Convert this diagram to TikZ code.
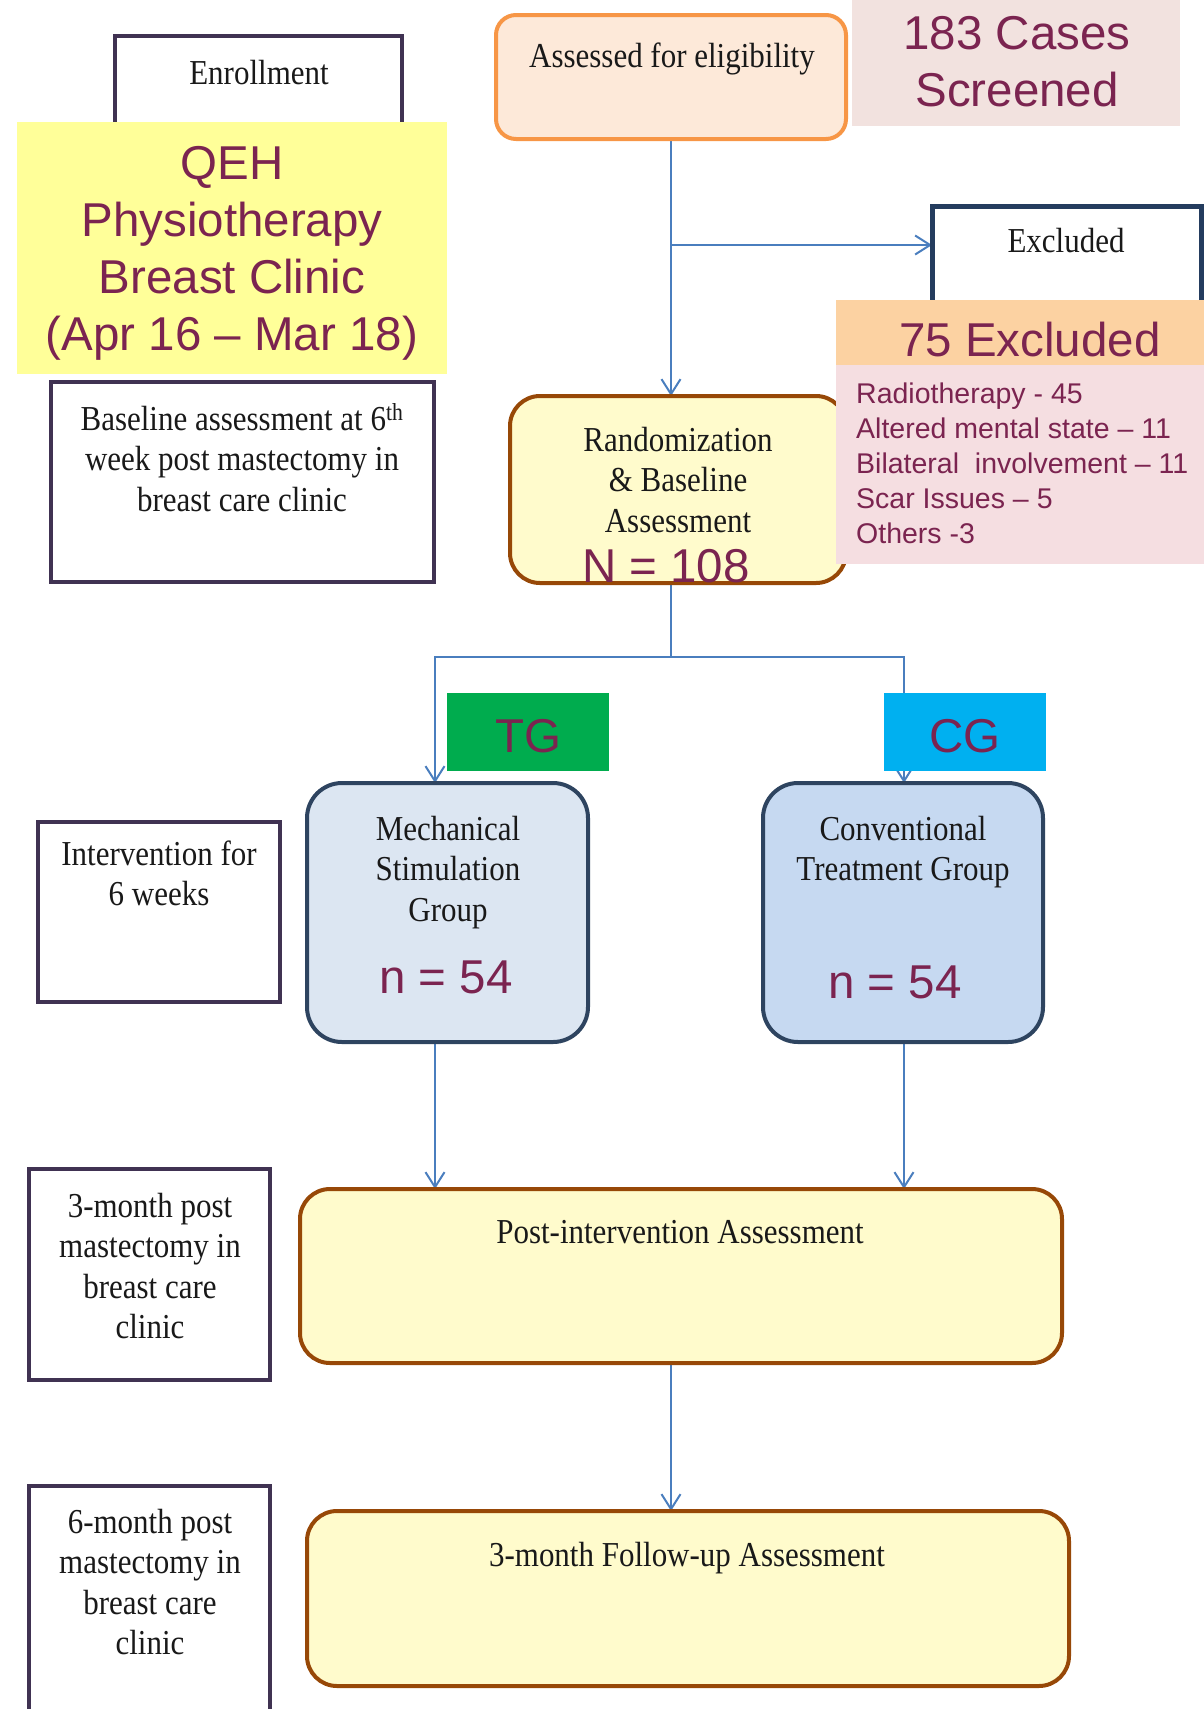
\documentclass[tikz,border=0pt]{standalone}
\usepackage{fontspec}
\newfontfamily\tnr{Liberation Serif}[FakeStretch=0.885]
\newfontfamily\ars{Liberation Sans}
\usetikzlibrary{arrows.meta}
\definecolor{mrn}{RGB}{123,36,80}
\definecolor{boxpurple}{RGB}{64,50,82}
\definecolor{exnavy}{RGB}{36,60,94}
\definecolor{arrblue}{RGB}{74,126,190}
\definecolor{qehyellow}{RGB}{255,255,153}
\definecolor{casesfill}{RGB}{242,226,223}
\definecolor{exhead}{RGB}{252,210,162}
\definecolor{exlist}{RGB}{245,222,225}
\definecolor{assfill}{RGB}{253,233,217}
\definecolor{assdraw}{RGB}{247,150,70}
\definecolor{ylfill}{RGB}{255,251,204}
\definecolor{yldraw}{RGB}{151,72,7}
\definecolor{msgfill}{RGB}{220,230,242}
\definecolor{ctgfill}{RGB}{198,217,241}
\definecolor{grpdraw}{RGB}{46,68,96}
\definecolor{tggreen}{RGB}{0,172,78}
\definecolor{cgblue}{RGB}{0,176,240}
\newcommand{\mlc}[1]{\begin{tabular}[t]{@{}c@{}}#1\end{tabular}}
\newcommand{\mll}[1]{\begin{tabular}[t]{@{}l@{}}#1\end{tabular}}
\pgfdeclarelayer{bg}
\pgfsetlayers{bg,main}
\tikzset{
  lbox/.style={draw=boxpurple, line width=4.5pt, fill=white, inner sep=0pt, outer sep=0pt, anchor=north west},
  flat/.style={inner sep=0pt, outer sep=0pt, anchor=north west},
  rbox/.style={line width=4pt, inner sep=0pt, outer sep=0pt, anchor=north west},
  serif/.style={font=\tnr\fontsize{35}{40.5}\selectfont, text=black!90, anchor=base, inner sep=0pt},
  big/.style={font=\ars\fontsize{47.5}{57}\selectfont, text=mrn, anchor=base, inner sep=0pt},
  small/.style={font=\ars\fontsize{28.5}{35.2}\selectfont, text=mrn, anchor=base west, inner sep=0pt},
  arr/.style={draw=arrblue, line width=2pt, -{Straight Barb[length=15pt,width=19pt]}},
  conn/.style={draw=arrblue, line width=2pt}
}
\begin{document}
\begin{tikzpicture}[x=1pt,y=-1pt]
\useasboundingbox (0,0) rectangle (1204,1709);
\clip (0,0) rectangle (1204,1709);

% left column
\node[lbox, minimum width=287pt, minimum height=114pt] (enroll) at (115,36) {};
\node[serif] (enrollT) at (259,84) {Enrollment};
\node[flat, fill=qehyellow, minimum width=430pt, minimum height=252pt] (qeh) at (17,122) {};
\node[big] (qehT) at (232,179) {\mlc{QEH\\Physiotherapy\\Breast Clinic\\(Apr 16 – Mar 18)}};
\node[lbox, minimum width=383pt, minimum height=200pt] (base) at (51,382) {};
\node[serif] (baseT) at (242,430) {\mlc{Baseline assessment at 6\textsuperscript{th}\\week post mastectomy in\\breast care clinic}};
\node[lbox, minimum width=242pt, minimum height=180pt] (interv) at (38,822) {};
\node[serif] (intervT) at (159,865) {\mlc{Intervention for\\6 weeks}};
\node[lbox, minimum width=241pt, minimum height=211pt] (mthree) at (29,1169) {};
\node[serif] (mthreeT) at (150,1217) {\mlc{3-month post\\mastectomy in\\breast care\\clinic}};
\node[lbox, minimum width=241pt, minimum height=260pt] (msix) at (29,1486) {};
\node[serif] (msixT) at (150,1533) {\mlc{6-month post\\mastectomy in\\breast care\\clinic}};

% top flow
\node[rbox, draw=assdraw, fill=assfill, rounded corners=20pt, minimum width=350pt, minimum height=124pt] (assess) at (496,15) {};
\node[serif] (assessT) at (672,67) {Assessed for eligibility};
\node[flat, fill=casesfill, minimum width=328pt, minimum height=128pt] (cases) at (852,-2) {};
\node[big] (casesT) at (1017,49) {\mlc{183 Cases\\Screened}};
\node[lbox, draw=exnavy, line width=5pt, minimum width=269pt, minimum height=124pt] (excl) at (932,206) {};
\node[serif] (exclT) at (1066,252) {Excluded};

\node[rbox, draw=yldraw, fill=ylfill, rounded corners=30pt, minimum width=336pt, minimum height=187pt] (rand) at (510,396) {};
\node[serif] (randT) at (678,451) {\mlc{Randomization\\\& Baseline\\Assessment}};
\node[big] (randN) at (666,582) {N = 108};

\node[flat, fill=exhead, minimum width=370pt, minimum height=65pt] (exhd) at (836,300) {};
\node[big] (exhdT) at (1030,356) {75 Excluded};
\node[flat, fill=exlist, minimum width=370pt, minimum height=199pt] (exls) at (836,365) {};
\node[small] (exlsT) at (856,403) {\mll{Radiotherapy - 45\\Altered mental state – 11\\Bilateral\ \ involvement – 11\\Scar Issues – 5\\Others -3}};

% groups
\node[flat, fill=tggreen, minimum width=162pt, minimum height=78pt] (tg) at (447,693) {};
\node[big] (tgT) at (528,752) {TG};
\node[flat, fill=cgblue, minimum width=162pt, minimum height=78pt] (cg) at (884,693) {};
\node[big] (cgT) at (965,752) {CG};

\node[rbox, draw=grpdraw, fill=msgfill, rounded corners=35pt, minimum width=281pt, minimum height=259pt] (msg) at (307,783) {};
\node[serif] (msgT) at (448,840) {\mlc{Mechanical\\Stimulation\\Group}};
\node[big] (msgN) at (446,993) {n = 54};
\node[rbox, draw=grpdraw, fill=ctgfill, rounded corners=35pt, minimum width=280pt, minimum height=259pt] (ctg) at (763,783) {};
\node[serif] (ctgT) at (903,840) {\mlc{Conventional\\Treatment Group}};
\node[big] (ctgN) at (895,998) {n = 54};

% bottom flow
\node[rbox, draw=yldraw, fill=ylfill, rounded corners=30pt, minimum width=762pt, minimum height=174pt] (post) at (300,1189) {};
\node[serif] (postT) at (680,1243) {Post-intervention Assessment};
\node[rbox, draw=yldraw, fill=ylfill, rounded corners=30pt, minimum width=762pt, minimum height=175pt] (follow) at (307,1511) {};
\node[serif] (followT) at (687,1566) {3-month Follow-up Assessment};

% connectors
\coordinate (spine) at (671,0);
\coordinate (br) at (671,245);
\coordinate (split) at (671,657);
\coordinate (colL) at (435,0);
\coordinate (colR) at (904,0);
\begin{pgfonlayer}{bg}
\draw[arr] (spine |- assess.south) -- (spine |- rand.north);
\draw[arr] (br) -- (excl.west |- br);
\draw[conn] (spine |- rand.south) -- (split);
\draw[arr] (split) -| (colL |- msg.north);
\draw[arr] (split) -| (colR |- ctg.north);
\draw[arr] (colL |- msg.south) -- (colL |- post.north);
\draw[arr] (colR |- ctg.south) -- (colR |- post.north);
\draw[arr] (spine |- post.south) -- (spine |- follow.north);
\end{pgfonlayer}
\end{tikzpicture}
\end{document}
